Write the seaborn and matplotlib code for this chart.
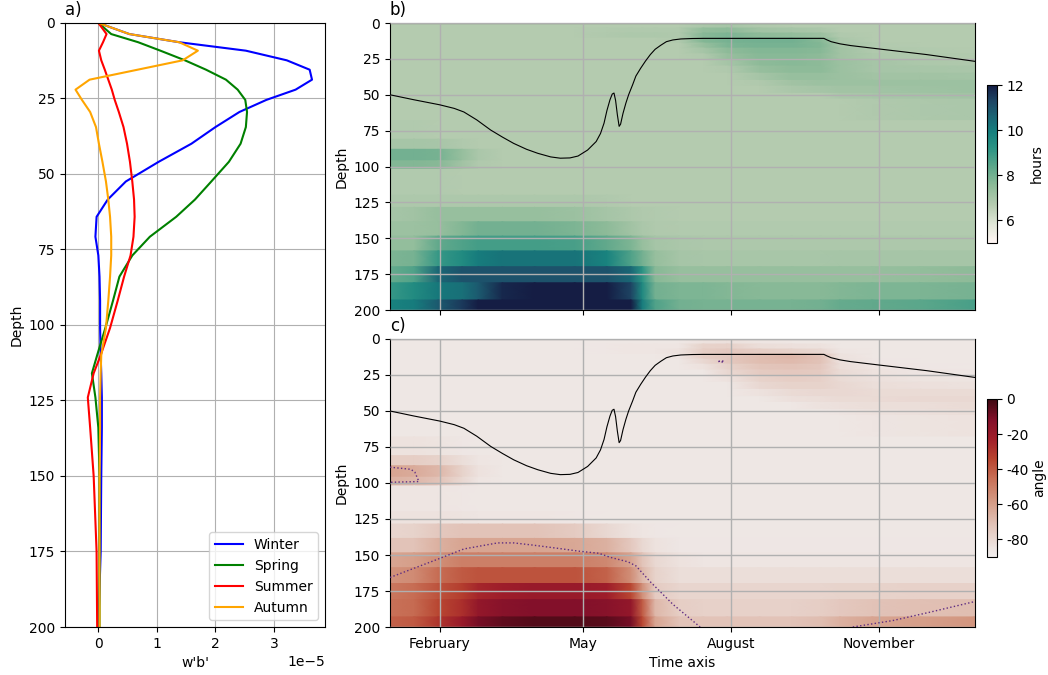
import datetime as dt

import matplotlib
matplotlib.use("Agg")
import matplotlib.dates as mdates
import matplotlib.pyplot as plt
import matplotlib.ticker as mticker
import numpy as np
import pandas as pd
import seaborn as sns
from matplotlib.colors import LinearSegmentedColormap

# ---------------------------------------------------------------- panel a data
# seasonal mean w'b' profiles (units of 1e-5) on model depth levels (m)
depth_levels = [0, 3.7, 6.4, 9.2, 12.4, 15.5, 18.8, 22.1, 25.5, 29.5, 34.5, 40, 46,
                52.5, 58.5, 64.2, 70.8, 77, 84, 92, 101, 110, 116, 124, 134, 150, 175, 200]
winter = [0, 0.53, 1.38, 2.52, 3.22, 3.61, 3.65, 3.37, 2.87, 2.41, 2.0, 1.59, 1.03,
          0.47, 0.16, -0.03, -0.05, 0.0, 0.02, 0.03, 0.03, 0.04, 0.05, 0.06, 0.06, 0.05, 0.04, 0.0]
spring = [0, 0.22, 0.68, 1.06, 1.48, 1.84, 2.18, 2.38, 2.51, 2.54, 2.52, 2.43, 2.23,
          1.93, 1.65, 1.33, 0.88, 0.58, 0.36, 0.25, 0.12, -0.02, -0.11, -0.05, 0.0, 0.02, 0.02, 0.02]
summer = [0, 0.14, 0.08, 0.01, 0.05, 0.11, 0.17, 0.23, 0.28, 0.35, 0.43, 0.49, 0.54,
          0.58, 0.61, 0.62, 0.6, 0.55, 0.44, 0.33, 0.2, 0.04, -0.08, -0.18, -0.14, -0.08, -0.03, -0.02]
autumn = [0, 0.53, 1.38, 1.70, 1.44, 0.67, -0.15, -0.39, -0.28, -0.14, -0.04, 0.01, 0.07,
          0.13, 0.17, 0.2, 0.22, 0.22, 0.2, 0.17, 0.13, 0.05, 0.04, 0.03, 0.03, 0.02, 0.02, 0.02]
seasons = ["Winter", "Spring", "Summer", "Autumn"]
season_colors = ["blue", "green", "red", "orange"]

# ---------------------------------------------------------- panels b / c data
band_edges = [0, 3.5, 7, 10.5, 14, 17.5, 21.5, 25.5, 30, 35, 40, 44, 49, 53, 68, 81, 88,
              96, 102, 120, 128.5, 138.5, 148.5, 158.8, 169.8, 181, 193, 200]
node_days = [0, 15, 30, 45, 55, 70, 90, 115, 135, 150, 157, 165, 180, 195, 210, 230,
             250, 268, 280, 300, 330, 364]

# period (hours), one row per depth band, one column per node day
period_hours = [
    [6.7] * 13 + [6.9, 7.0, 6.8] + [6.7] * 6,
    [6.7] * 8 + [6.75, 6.8, 6.8, 6.8, 6.8, 7.4, 7.5, 7.1, 7.0, 6.9] + [6.7] * 4,
    [6.7] * 8 + [6.8, 6.85, 6.85, 6.85, 6.8, 7.6, 7.8, 7.5, 7.4, 7.2, 6.8] + [6.7] * 3,
    [6.7] * 12 + [6.8, 7.7, 7.9, 8.0, 8.0, 7.6, 6.9] + [6.7] * 3,
    [6.7] * 13 + [7.3, 7.8, 7.9, 7.9, 7.7, 7.0, 6.75, 6.7, 6.7],
    [6.7] * 13 + [7.0, 7.5, 7.7, 7.7, 7.6, 7.1, 6.8, 6.75, 6.7],
    [6.7] * 13 + [6.8, 7.3, 7.6, 7.6, 7.5, 7.1, 6.85, 6.8, 6.75],
    [6.7] * 14 + [7.0, 7.5, 7.6, 7.5, 7.2, 7.0, 6.85, 6.8],
    [6.7] * 14 + [6.8, 7.3, 7.5, 7.5, 7.2, 7.0, 6.95, 6.9],
    [6.7] * 15 + [7.0, 7.3, 7.3, 7.2, 7.1, 7.1, 7.05],
    [6.7] * 15 + [6.8, 7.1, 7.2, 7.2, 7.2, 7.2, 7.2],
    [6.7] * 16 + [6.9, 7.0, 7.1, 7.1, 7.15, 7.2],
    [6.7] * 18 + [6.9, 6.95, 7.0, 7.1],
    [6.7] * 19 + [6.8, 6.85, 6.9],
    [6.75, 6.75, 6.72] + [6.7] * 19,
    [7.0, 7.0, 6.95, 6.8] + [6.7] * 18,
    [8.0, 8.0, 7.9, 7.3, 6.9] + [6.7] * 17,
    [7.7, 7.7, 7.6, 7.1, 6.8] + [6.7] * 17,
    [6.75, 6.75, 6.75] + [6.7] * 19,
    [6.85] * 8 + [6.8] + [6.7] * 13,
    [7.0, 7.1, 7.3, 7.3, 7.3, 7.3, 7.3, 7.2, 7.0, 6.85, 6.8, 6.75] + [6.7] * 10,
    [7.2, 7.2, 7.3, 7.7, 8.0, 8.0, 8.0, 7.8, 7.5, 7.1, 6.9, 6.8] + [6.75] * 10,
    [7.4, 7.4, 8.3, 8.6, 8.8, 8.8, 8.8, 8.7, 8.3, 7.8, 7.3, 7.0, 6.9] + [6.85] * 9,
    [7.8, 7.9, 9.0, 9.5, 10.0, 10.2, 10.2, 10.2, 9.8, 8.6, 8.0, 7.3, 7.0] + [6.95] * 5 + [7.0] * 4,
    [8.2, 8.6, 10.5, 11.0, 11.0, 11.0, 11.0, 11.0, 11.0, 10.5, 9.2, 7.6] + [7.3] * 8 + [7.4, 7.5],
    [9.0, 9.5, 10.1, 10.3, 10.8, 11.8, 12.0, 12.0, 12.0, 11.3, 9.6, 8.0, 7.8, 7.8, 7.7, 7.6,
     7.6, 7.6, 7.7, 7.8, 7.8, 7.9],
    [9.8, 10.0, 10.8, 11.5, 12.0, 12.0, 12.0, 12.0, 12.0, 12.0, 10.0, 8.6, 8.0, 7.9, 7.9, 7.9,
     7.9, 8.0, 8.2, 8.3, 8.4, 8.7],
]

# angle (degrees), same bands and node days
angle_deg = [
    [-86] * 13 + [-84, -83, -85] + [-86] * 6,
    [-86] * 8 + [-85.5, -85, -85, -85, -85, -78, -77, -82, -83, -84] + [-86] * 4,
    [-86] * 8 + [-85.5, -85, -85, -85, -84, -76, -74, -76, -78, -80, -85] + [-86] * 3,
    [-86] * 12 + [-85, -76, -74, -70, -68, -72, -84] + [-86] * 3,
    [-86] * 13 + [-80, -74, -70, -69, -72, -83, -85.5, -86, -86],
    [-86] * 13 + [-84, -78, -73, -72, -74, -82, -85, -85.5, -86],
    [-86] * 14 + [-80, -75, -74, -75, -81, -84, -85, -85.5],
    [-86] * 14 + [-84, -78, -76, -77, -81, -83, -84.5, -85],
    [-86] * 15 + [-80, -78, -78, -80, -82, -83, -84],
    [-86] * 15 + [-84, -81, -80, -80, -81, -81, -81],
    [-86] * 16 + [-83, -82, -81, -81, -80, -80],
    [-86] * 17 + [-84, -83, -82, -82, -81],
    [-86] * 18 + [-85, -84, -83, -82],
    [-86] * 19 + [-85, -84.5, -84],
    [-84, -84, -84.5, -85.5] + [-86] * 18,
    [-76, -76, -78, -82, -85] + [-86] * 17,
    [-62, -64, -68, -78, -84] + [-86] * 17,
    [-66, -68, -72, -80, -85] + [-86] * 17,
    [-85, -85, -85, -85.5] + [-86] * 18,
    [-84, -84, -84, -84.5, -85, -85, -85, -85.5] + [-86] * 14,
    [-79, -78, -74, -72, -72, -72, -72, -75, -80, -84, -85, -85.5] + [-86] * 10,
    [-72, -72, -66, -62, -62, -62, -62, -63, -66, -74, -80, -84] + [-85.5] * 10,
    [-62, -60, -55, -50, -50, -50, -50, -50, -53, -62, -72, -80, -84] + [-85] * 9,
    [-56, -54, -45, -40, -38, -38, -38, -38, -42, -55, -68, -78] + [-82] * 10,
    [-48, -45, -38, -32, -25, -22, -20, -20, -22, -35, -55, -75] + [-79] * 6 + [-78, -78, -77, -77],
    [-46, -44, -35, -28, -18, -14, -12, -12, -14, -18, -40, -68, -76, -77, -77, -77, -77, -76,
     -74, -72, -71, -70],
    [-42, -40, -30, -20, -10, -6, -4, -4, -5, -10, -35, -62, -72, -72, -72, -72, -72, -70, -66,
     -62, -60, -57],
]

# mixed layer depth (m) through the year
mld_days = [0, 15, 31, 40, 46, 54, 62.7, 70, 77, 85, 92, 100, 106, 112, 117, 123, 128.3,
            131, 133.2, 135, 136.9, 138.3, 139.4, 140.4, 141.5, 142.6, 143.5, 145, 146.8,
            148.5, 151, 153, 156, 159, 162, 165, 168.5, 172, 176, 181, 188, 195, 270, 272,
            274.5, 280, 286.6, 303, 334, 364]
mld_depth = [50, 53.5, 57, 59.5, 62, 67.5, 74.6, 79.5, 83.9, 88, 90.8, 93.3, 94.2, 94, 92.7,
             88.5, 82.6, 77, 69.8, 61, 53.5, 49.5, 48.8, 54, 64, 72, 70.5, 63, 55.8,
             50, 43, 37, 31.5, 26.5, 22, 18.3, 15.5, 13, 11.8, 11.1, 10.8, 10.7, 10.7, 11.8,
             13, 14.5, 15.7, 17.9, 22, 26.7]

# contour of the angle field
cont_left_days = [0, 13, 15.5, 18, 0]
cont_left_depth = [89, 90.5, 92.5, 99, 99.5]
cont_spot_days = [204.5, 206, 208, 206, 204.5]
cont_spot_depth = [15.6, 15.0, 15.6, 16.2, 15.6]
cont_deep_days = [0, 30, 46, 67, 77, 88, 104, 118, 130, 137, 148, 153, 162, 176, 193]
cont_deep_depth = [165.6, 152.8, 145.8, 141.6, 141.6, 143, 145.3, 147.4, 148.8, 151.6,
                   154.7, 157.5, 168.6, 184.2, 200]
cont_right_days = [288, 313, 336, 364]
cont_right_depth = [200, 195.5, 189.7, 182.3]

# ------------------------------------------------------------------ colormaps
tempo_like = LinearSegmentedColormap.from_list(
    "tempo_like",
    [(0.0, "#fff6f4"), (0.12, "#dfe6d6"), (0.24, "#b5cbb0"), (0.36, "#8dbb98"),
     (0.48, "#5ea88b"), (0.6, "#2b9384"), (0.7, "#16807e"), (0.8, "#1b6474"),
     (0.9, "#1e4564"), (1.0, "#151d44")])
amp_like = LinearSegmentedColormap.from_list(
    "amp_like",
    [(0.0, "#f1ecec"), (0.05, "#eee6e3"), (0.2, "#e2c3b8"), (0.35, "#d49a84"),
     (0.5, "#c76e55"), (0.62, "#b8442f"), (0.75, "#a01e2a"), (0.87, "#82102a"),
     (1.0, "#3c0911")])

# ---------------------------------------------------------------------- figure
fig = plt.figure(figsize=(10.48, 6.75), dpi=100)
ax_a = fig.add_axes([0.062, 0.0711, 0.248, 0.895])
ax_b = fig.add_axes([0.3721, 0.5407, 0.5582, 0.4252])
ax_c = fig.add_axes([0.3721, 0.0711, 0.5582, 0.4267])
cax_b = fig.add_axes([0.9415, 0.6404, 0.0095, 0.2336])
cax_c = fig.add_axes([0.9415, 0.1753, 0.0095, 0.2336])

# panel a
profiles = pd.concat(
    [pd.DataFrame({"depth": depth_levels, "wb": np.array(vals) * 1e-5, "season": name})
     for name, vals in zip(seasons, [winter, spring, summer, autumn])],
    ignore_index=True)
sns.lineplot(data=profiles, x="wb", y="depth", hue="season", hue_order=seasons,
             palette=season_colors, orient="y", sort=False, estimator=None,
             linewidth=1.5, ax=ax_a)
ax_a.set_ylim(200, 0)
ax_a.set_xlim(-0.57e-5, 3.87e-5)
ax_a.set_yticks(np.arange(0, 201, 25))
ax_a.grid(True, color="#b0b0b0", linewidth=0.8)
ax_a.set_xlabel("w'b'")
ax_a.set_ylabel("Depth")
ax_a.set_title("a)", loc="left")
ax_a.legend(loc="lower right", title=None)

# panels b and c
base = mdates.date2num(dt.datetime(2021, 1, 1))
t_nodes = base + np.asarray(node_days, dtype=float)


def band_mesh(ax, values, cmap, vmin, vmax):
    vals = np.asarray(values, dtype=float)
    nb, nt = vals.shape
    edges = np.asarray(band_edges, dtype=float)
    y_rows = np.column_stack([edges[:-1], edges[1:]]).ravel()
    Y = np.repeat(y_rows[:, None], nt, axis=1)
    X = np.tile(t_nodes, (2 * nb, 1))
    C = np.repeat(vals, 2, axis=0)
    return ax.pcolormesh(X, Y, C, shading="gouraud", cmap=cmap, vmin=vmin, vmax=vmax)


mesh_b = band_mesh(ax_b, period_hours, tempo_like, 5, 12)
mesh_c = band_mesh(ax_c, angle_deg, amp_like, -90, 0)

for ax in (ax_b, ax_c):
    ax.plot(base + np.asarray(mld_days), mld_depth, color="black", linewidth=0.8, zorder=3)
    ax.set_ylim(200, 0)
    ax.set_xlim(base, base + 364)
    ax.set_yticks(np.arange(0, 201, 25))
    ax.xaxis.set_major_locator(mdates.MonthLocator(bymonth=[2, 5, 8, 11]))
    ax.xaxis.set_major_formatter(mdates.DateFormatter("%B"))
    ax.set_axisbelow(False)
    ax.grid(True, color="#b0b0b0", linewidth=1.0)
    ax.set_ylabel("Depth")

for d, z in [(cont_left_days, cont_left_depth), (cont_spot_days, cont_spot_depth),
             (cont_deep_days, cont_deep_depth), (cont_right_days, cont_right_depth)]:
    ax_c.plot(base + np.asarray(d, dtype=float), z, color="#5e2c82", linestyle=":",
              linewidth=1.0, zorder=3)

ax_b.tick_params(labelbottom=False)
ax_b.set_title("b)", loc="left")
ax_c.set_title("c)", loc="left")
ax_c.set_xlabel("Time axis")

cb_b = fig.colorbar(mesh_b, cax=cax_b, ticks=[6, 8, 10, 12])
cb_b.set_label("hours")
cb_c = fig.colorbar(mesh_c, cax=cax_c, ticks=[-80, -60, -40, -20, 0])
cb_c.ax.yaxis.set_major_formatter(mticker.FuncFormatter(lambda v, p: f"{v:.0f}"))
cb_c.set_label("angle", labelpad=2)

fig.savefig("out.png", dpi=100)
